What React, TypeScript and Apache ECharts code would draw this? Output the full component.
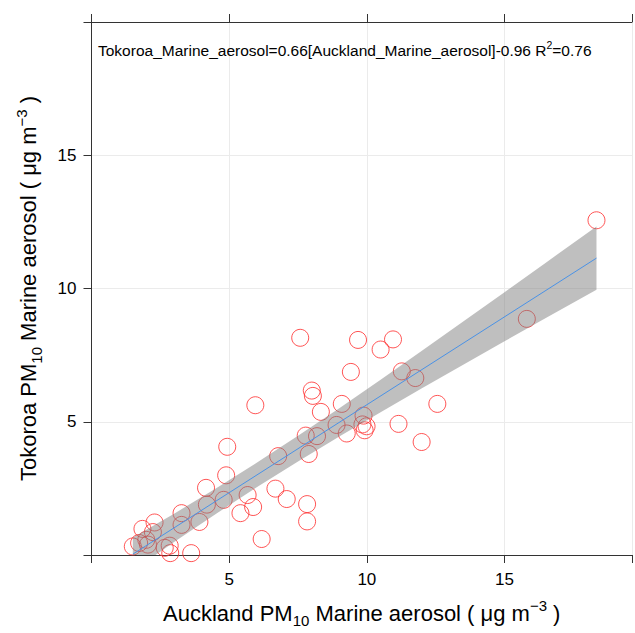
import React, { useEffect, useRef } from "react";
import * as echarts from "echarts";

// Scatter data (Auckland vs Tokoroa PM10 marine aerosol, µg m-3)
const aucklandX = [
  18.34, 15.81, 7.58, 9.68, 10.95, 10.5, 9.42, 11.27, 11.76, 8.0,
  8.04, 8.33, 9.09, 12.56, 5.95, 9.88, 8.9, 9.84, 9.99, 9.92,
  9.27, 11.15, 7.78, 8.19, 11.99, 4.93, 7.89, 6.78, 4.89, 4.16,
  6.68, 4.19, 4.8, 5.67, 5.87, 5.41, 7.09, 7.83, 7.83, 6.18,
  3.92, 3.27, 3.27, 3.62, 2.86, 2.84, 2.66, 2.29, 2.23, 2.05,
  1.99, 1.85, 1.73, 1.5,
];
const tokoroaY = [
  12.56, 8.86, 8.15, 8.07, 8.09, 7.71, 6.87, 6.89, 6.64, 6.17,
  5.97, 5.37, 5.67, 5.67, 5.62, 5.23, 4.88, 4.9, 4.83, 4.68,
  4.56, 4.92, 4.48, 4.46, 4.24, 4.06, 3.79, 3.71, 2.99, 2.52,
  2.49, 1.89, 2.07, 2.25, 1.8, 1.57, 2.1, 1.91, 1.26, 0.6,
  1.24, 1.57, 1.13, 0.07, 0.07, 0.35, 0.27, 1.22, 0.86, 0.39,
  0.57, 0.98, 0.45, 0.32,
];

// Fitted line end points
const fitX = [1.5, 18.34];
const fitY = [0.03, 11.14];

// Confidence band
const bandX = [1.5, 3, 4.5, 6, 7.5, 9, 10.5, 12, 13.5, 15, 16.5, 18.34];
const bandLower = [-0.6, 0.49, 1.53, 2.54, 3.51, 4.45, 5.36, 6.26, 7.14, 8.02, 8.89, 9.95];
const bandUpper = [0.66, 1.55, 2.49, 3.46, 4.47, 5.51, 6.58, 7.66, 8.76, 9.86, 10.97, 12.33];

const tickLabels = ["5", "10", "15"];
const X_MAX = 19.63;
const Y_MAX = 20;

const FONT = "'Liberation Sans', Arial, sans-serif";

export default function App() {
  const ref = useRef<HTMLDivElement>(null);

  useEffect(() => {
    if (!ref.current) return;
    const chart = echarts.init(ref.current, undefined, { renderer: "svg" });

    const scatterData = aucklandX.map((x, i) => [x, tokoroaY[i]]);
    const bandData = bandX.map((x, i) => [x, bandLower[i], bandUpper[i]]);
    const lineData = fitX.map((x, i) => [x, fitY[i]]);

    const labelFmt = (v: number) => (tickLabels.includes(String(v)) ? String(v) : "");

    const nameRich = {
      m: { fontSize: 22, lineHeight: 30, verticalAlign: "middle", fontFamily: FONT, color: "#000" },
      sub: { fontSize: 15, lineHeight: 14, verticalAlign: "bottom", fontFamily: FONT, color: "#000" },
      sup: { fontSize: 15, lineHeight: 14, verticalAlign: "top", fontFamily: FONT, color: "#000" },
    };

    const axisLine = { show: true, lineStyle: { color: "#333", width: 1 } };
    const axisTick = { show: true, length: 8, lineStyle: { color: "#333", width: 1 } };
    const splitLine = { show: true, lineStyle: { color: "#ebebeb", width: 1 } };

    chart.setOption({
      animation: false,
      backgroundColor: "#fff",
      grid: { left: 91.5, top: 22, right: 0, height: 535.5 },
      graphic: [
        {
          type: "text",
          left: 98,
          top: 39,
          z: 100,
          style: {
            text: "{m|Tokoroa_Marine_aerosol=0.66[Auckland_Marine_aerosol]-0.96 R}{sup|2}{m|=0.76}",
            rich: {
              m: { fontSize: 15.5, lineHeight: 22, verticalAlign: "middle", fontFamily: FONT, fill: "#000" },
              sup: { fontSize: 10.5, lineHeight: 11, verticalAlign: "top", fontFamily: FONT, fill: "#000" },
            },
          },
        },
      ],
      xAxis: [
        {
          type: "value",
          position: "bottom",
          min: 0,
          max: X_MAX,
          interval: 5,
          axisLine,
          axisTick,
          splitLine,
          axisLabel: { formatter: labelFmt, fontSize: 17, color: "#000", fontFamily: FONT, margin: 16 },
          name: "{m|Auckland PM}{sub|10}{m| Marine aerosol ( μg m}{sup|−3}{m| )}",
          nameLocation: "middle",
          nameGap: 43,
          nameTextStyle: { rich: nameRich },
        },
        {
          type: "value",
          position: "top",
          min: 0,
          max: X_MAX,
          interval: 5,
          axisLine,
          axisTick,
          splitLine: { show: false },
          axisLabel: { show: false },
        },
      ],
      yAxis: [
        {
          type: "value",
          min: 0,
          max: Y_MAX,
          interval: 5,
          axisLine,
          axisTick,
          splitLine,
          axisLabel: { formatter: labelFmt, fontSize: 17, color: "#000", fontFamily: FONT, margin: 15 },
          name: "{m|Tokoroa PM}{sub|10}{m| Marine aerosol ( μg m}{sup|−3}{m| )}",
          nameLocation: "middle",
          nameGap: 48,
          nameRotate: 90,
          nameTextStyle: { rich: nameRich },
        },
      ],
      series: [
        {
          type: "scatter",
          data: scatterData,
          symbol: "circle",
          symbolSize: 17,
          z: 2,
          itemStyle: { color: "rgba(0,0,0,0)", borderColor: "#ff2a2a", borderWidth: 1 },
          emphasis: { disabled: true },
        },
        {
          type: "custom",
          z: 3,
          clip: true,
          data: bandData,
          renderItem: (params: any, api: any) => {
            if (params.dataIndex !== 0) return null;
            const upper = bandData.map((d) => api.coord([d[0], d[2]]));
            const lower = bandData.map((d) => api.coord([d[0], d[1]])).reverse();
            return {
              type: "polygon",
              shape: { points: upper.concat(lower) },
              style: { fill: "rgba(128,128,128,0.5)", stroke: "none" },
            };
          },
          encode: { x: 0, y: [1, 2] },
        },
        {
          type: "line",
          data: lineData,
          z: 4,
          symbol: "none",
          lineStyle: { color: "#4a92e6", width: 1 },
        },
      ],
    });

    return () => chart.dispose();
  }, []);

  return (
    <div
      ref={ref}
      style={{ position: "fixed", left: 0, top: 0, width: 635, height: 633, background: "#fff" }}
    />
  );
}
